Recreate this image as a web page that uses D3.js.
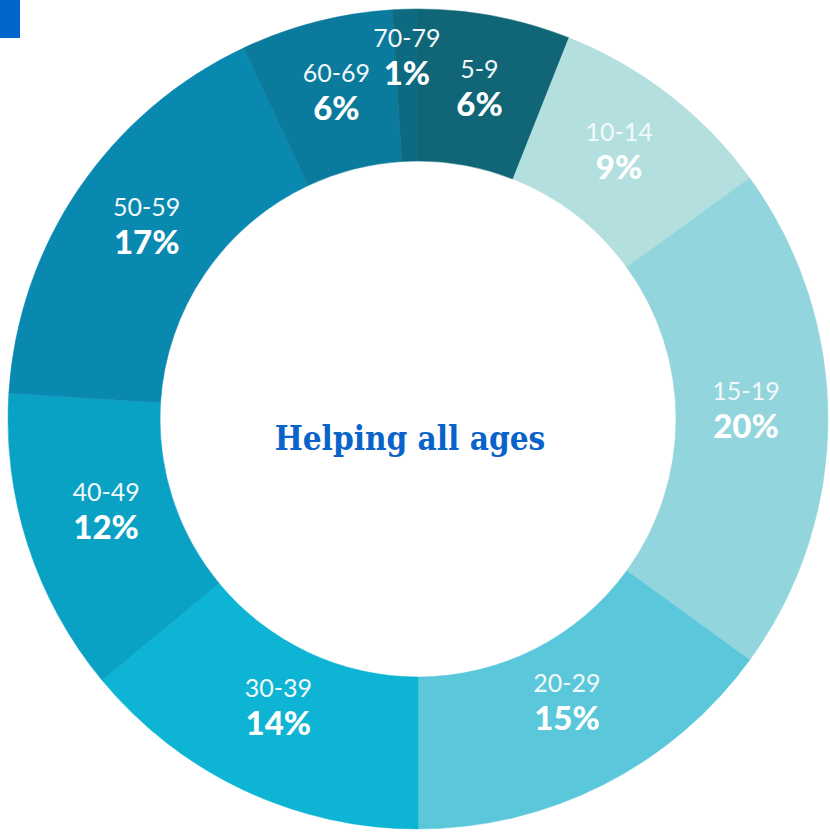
<!DOCTYPE html>
<html lang="en">

<head>
  <meta charset="UTF-8">
  <title>Helping all ages</title>
  <script src="https://cdn.jsdelivr.net/npm/d3@7"></script>
  <style>
    body {
      margin: 0;
      background: #ffffff;
    }

    svg {
      display: block;
    }

    .age {
      font-family: Lato, "Open Sans", sans-serif;
      font-size: 25px;
      fill: #f2f9fa;
    }

    .pct {
      font-family: Lato, "Open Sans", sans-serif;
      font-size: 33px;
      font-weight: 900;
      fill: #ffffff;
    }

    #title {
      font-family: "DejaVu Serif Condensed", "DejaVu Serif", serif;
      font-weight: bold;
      font-size: 33px;
      fill: #0a63c9;
    }
  </style>
</head>

<body>
  <div id="chart"></div>
  <script>
    // clockwise from 12 o'clock
    const ageGroups = ["5-9", "10-14", "15-19", "20-29", "30-39", "40-49", "50-59", "60-69", "70-79"]
    const shares = [6, 9, 20, 15, 14, 12, 17, 6, 1]
    const colors = ["#106677", "#b4dfdf", "#93d5dc", "#5ac7db", "#0db4d4",
      "#09a2c5", "#0a89b0", "#0a7a9d", "#0d6a80"]
    const centerLabel = "Helping all ages"

    const width = 830
    const height = 832
    const cx = 418
    const cy = 419
    const outerR = 410
    const innerR = 258
    const labelR = 328

    const svg = d3.select("#chart")
      .append("svg")
      .attr("width", width)
      .attr("height", height)

    // little blue tab in the corner
    svg.append("rect")
      .attr("x", 0)
      .attr("y", 0)
      .attr("width", 20)
      .attr("height", 38)
      .attr("fill", "#0066cc")

    const data = ageGroups.map((g, i) => ({ group: g, share: shares[i], color: colors[i] }))

    const pie = d3.pie()
      .value(d => d.share)
      .sort(null)

    const arc = d3.arc()
      .innerRadius(innerR)
      .outerRadius(outerR)

    const g = svg.append("g")
      .attr("transform", `translate(${cx}, ${cy})`)

    const arcs = pie(data)

    g.selectAll("path")
      .data(arcs)
      .enter()
      .append("path")
      .attr("d", arc)
      .attr("fill", d => d.data.color)
      .attr("stroke", d => d.data.color)
      .attr("stroke-width", 0.5)

    // the 1% slice is too thin, its label sits further out
    const labelArc = d => d3.arc()
      .innerRadius(d.data.share < 3 ? 353 : labelR)
      .outerRadius(d.data.share < 3 ? 353 : labelR)

    const labels = g.selectAll(".label")
      .data(arcs)
      .enter()
      .append("g")
      .attr("class", "label")
      .attr("transform", d => `translate(${labelArc(d).centroid(d)})`)

    labels.append("text")
      .attr("class", "age")
      .attr("text-anchor", "middle")
      .attr("y", -19)
      .text(d => d.data.group)

    labels.append("text")
      .attr("class", "pct")
      .attr("text-anchor", "middle")
      .attr("y", 19)
      .text(d => d.data.share + "%")

    svg.append("text")
      .attr("id", "title")
      .attr("x", 410)
      .attr("y", 450)
      .attr("text-anchor", "middle")
      .text(centerLabel)
  </script>
</body>

</html>
